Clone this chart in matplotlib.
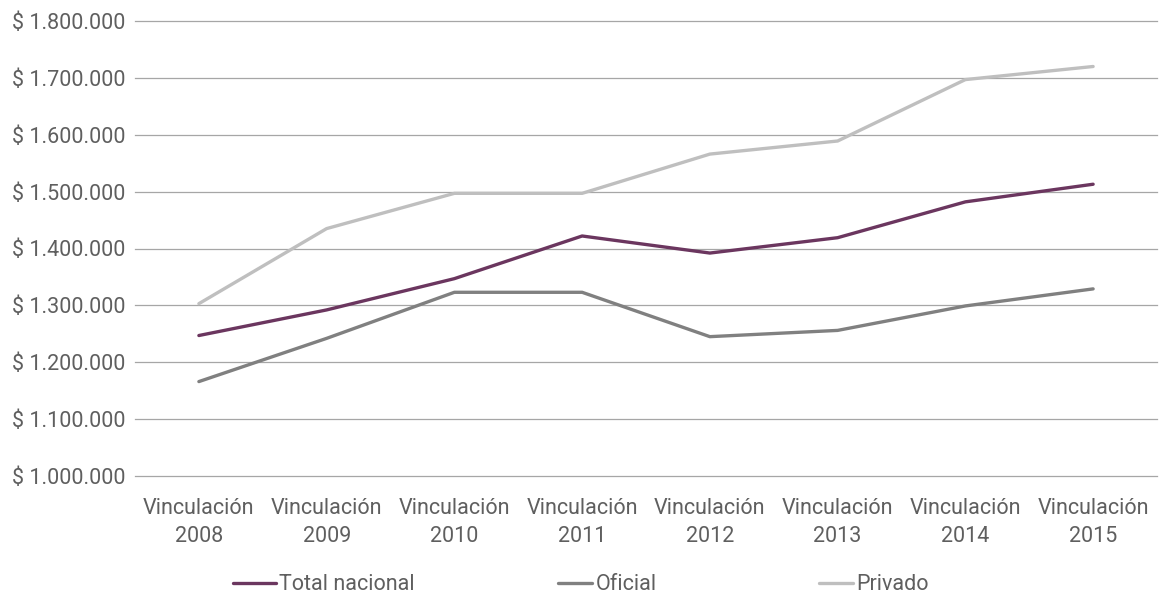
import matplotlib
matplotlib.use("Agg")
import matplotlib.pyplot as plt
from matplotlib.ticker import FuncFormatter

# Salario promedio de vinculación por año y sector
categorias = ["Vinculación\n2008", "Vinculación\n2009", "Vinculación\n2010", "Vinculación\n2011",
              "Vinculación\n2012", "Vinculación\n2013", "Vinculación\n2014", "Vinculación\n2015"]
total_nacional = [1247000, 1292000, 1347000, 1422000, 1392000, 1419000, 1482000, 1513000]
oficial = [1166000, 1242000, 1323000, 1323000, 1245000, 1256000, 1299000, 1329000]
privado = [1303000, 1435000, 1497000, 1497000, 1566000, 1589000, 1697000, 1720000]

series = [
    ("Total nacional", total_nacional, "#6B365F"),
    ("Oficial", oficial, "#808080"),
    ("Privado", privado, "#BFBFBF"),
]

plt.rcParams["font.family"] = ["Roboto", "DejaVu Sans"]
texto = "#5F5F5F"
fs = 15.5

fig = plt.figure(figsize=(11.64, 5.97), dpi=100)
ax = fig.add_axes([135 / 1164, 1 - 476 / 597, (1157 - 135) / 1164, (476 - 21) / 597])

x = list(range(len(categorias)))
lineas = []
for nombre, valores, color in series:
    ln, = ax.plot(x, valores, color=color, linewidth=2.4, label=nombre, solid_capstyle="round",
                  solid_joinstyle="round", zorder=3)
    lineas.append(ln)

ax.set_ylim(1000000, 1800000)
ax.set_xlim(-0.5, len(categorias) - 0.5)
ax.set_yticks(range(1000000, 1800001, 100000))
ax.yaxis.set_major_formatter(FuncFormatter(lambda v, p: "$ " + f"{int(v):,}".replace(",", ".")))
ax.set_xticks(x)
ax.set_xticklabels(categorias)

ax.grid(axis="y", color="#A6A6A6", linewidth=0.9)
for gl in ax.get_ygridlines():
    gl.set_clip_on(False)
ax.set_axisbelow(True)
for s in ax.spines.values():
    s.set_visible(False)
ax.tick_params(axis="both", length=0, labelsize=fs, colors=texto)
ax.tick_params(axis="y", pad=7)
ax.tick_params(axis="x", pad=16)
for t in ax.get_xticklabels():
    t.set_linespacing(1.4)

# one legend entry per series, spread across the bottom
pos_leyenda = [233, 558, 819]
largo_marca = [2.0, 1.6, 1.6]
for ln, px, hl in zip(lineas, pos_leyenda, largo_marca):
    leg = fig.legend(handles=[ln], loc="center left", bbox_to_anchor=(px / 1164, 1 - 585 / 597),
                     frameon=False, fontsize=fs, handlelength=hl, handletextpad=0.15,
                     borderaxespad=0, borderpad=0)
    for t in leg.get_texts():
        t.set_color(texto)

fig.savefig("out.png", dpi=100)
